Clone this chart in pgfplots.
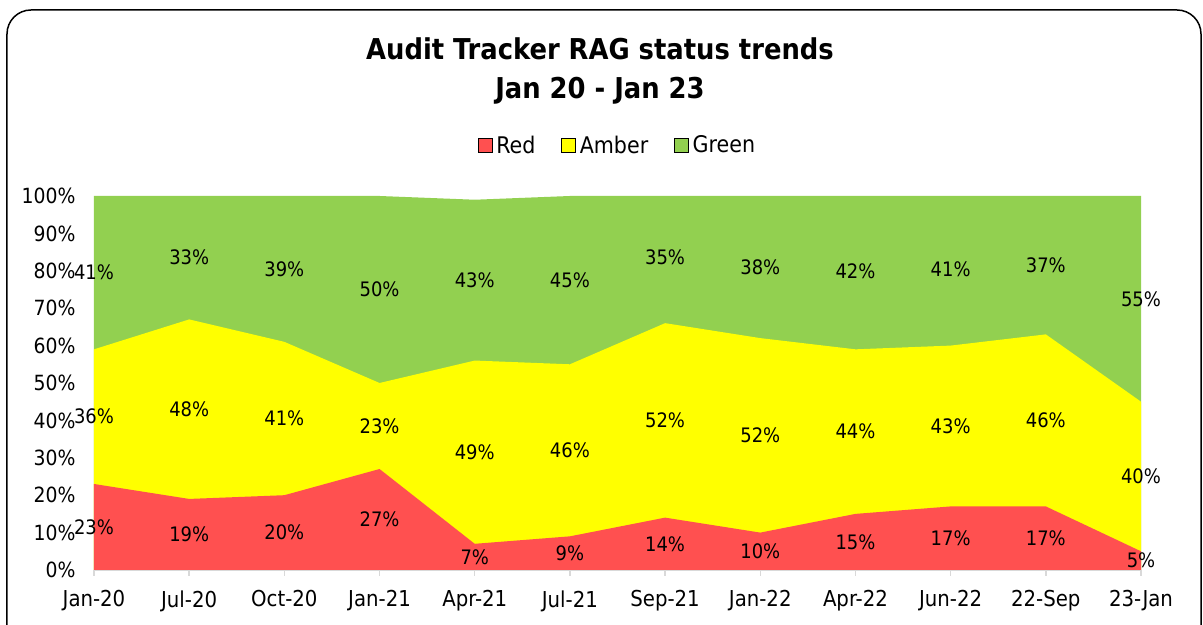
\documentclass[border=0pt]{standalone}
\usepackage{fontspec}
\setmainfont{DejaVu Sans Condensed}
\usepackage{pgfplots}
\pgfplotsset{compat=1.18}
\usepackage{pgfplotstable}
\definecolor{cRed}{HTML}{FF5050}
\definecolor{cAmber}{HTML}{FFFF00}
\definecolor{cGreen}{HTML}{92D050}
\definecolor{axgray}{HTML}{D9D9D9}

\pgfplotstableread{
x red amber green
0 23 36 41
1 19 48 33
2 20 41 39
3 27 23 50
4 7 49 43
5 9 46 45
6 14 52 35
7 10 52 38
8 15 44 42
9 17 43 41
10 17 46 37
11 5 40 55
}\data

\begin{document}
\begin{tikzpicture}[x=1bp,y=1bp]
\useasboundingbox (-94,-55) rectangle (1109,570);
\draw[line width=1.5bp, rounded corners=24bp] (-87,-90) rectangle (1107,560);
\node[font=\fontsize{28.8}{40}\selectfont\bfseries, align=center] at (506,499) {Audit Tracker RAG status trends\\Jan 20 - Jan 23};
\begin{axis}[
  at={(0,0)}, anchor=south west,
  scale only axis, width=1047bp, height=374bp,
  xmin=0, xmax=11, ymin=0, ymax=100,
  clip=false,
  axis x line*=bottom, axis y line*=left,
  x axis line style={draw=axgray, line width=1.5bp, -},
  y axis line style={draw=none},
  xtick=data,
  xticklabels={Jan-20,Jul-20,Oct-20,Jan-21,Apr-21,Jul-21,Sep-21,Jan-22,Apr-22,Jun-22,22-Sep,23-Jan},
  ytick={0,10,...,100},
  yticklabel={\pgfmathprintnumber{\tick}\%},
  /pgf/number format/assume math mode=true,
  xtick style={draw=axgray, line width=1.5bp},
  ytick style={draw=none},
  tick align=outside,
  major tick length=6bp,
  yticklabel style={font=\fontsize{21}{24}\selectfont, xshift=-9bp},
  xticklabel style={font=\fontsize{22}{25}\selectfont, yshift=-11bp},
  legend style={at={(0.5,1.136)}, anchor=center, draw=none, fill=none,
    legend columns=3, font=\fontsize{23}{26}\selectfont,
    /tikz/every even column/.append style={column sep=24bp},
    /tikz/every odd column/.append style={column sep=2bp}},
  legend image code/.code={\fill[#1] (0bp,-7bp) rectangle (14bp,7bp);},
]
\addlegendimage{fill=cRed}\addlegendentry{Red}
\addlegendimage{fill=cAmber}\addlegendentry{Amber}
\addlegendimage{fill=cGreen}\addlegendentry{Green}

\addplot[forget plot, draw=none, fill=cGreen] table[x=x, y expr={min(\thisrow{red}+\thisrow{amber}+\thisrow{green},100)}]{\data} \closedcycle;
\addplot[forget plot, draw=none, fill=cAmber] table[x=x, y expr={\thisrow{red}+\thisrow{amber}}]{\data} \closedcycle;
\addplot[forget plot, draw=none, fill=cRed] table[x=x, y=red]{\data} \closedcycle;

\pgfplotsset{lbl/.style={forget plot, draw=none, mark=none, point meta=explicit,
  nodes near coords={\pgfmathprintnumber{\pgfplotspointmeta}\%},
  nodes near coords align=center,
  every node near coord/.append style={font=\fontsize{20}{23}\selectfont, text=black}}}
\addplot[lbl] table[x=x, y expr={\thisrow{red}/2}, meta=red]{\data};
\addplot[lbl] table[x=x, y expr={\thisrow{red}+\thisrow{amber}/2}, meta=amber]{\data};
\addplot[lbl] table[x=x, y expr={\thisrow{red}+\thisrow{amber}+\thisrow{green}/2}, meta=green]{\data};
\end{axis}
\end{tikzpicture}
\end{document}
